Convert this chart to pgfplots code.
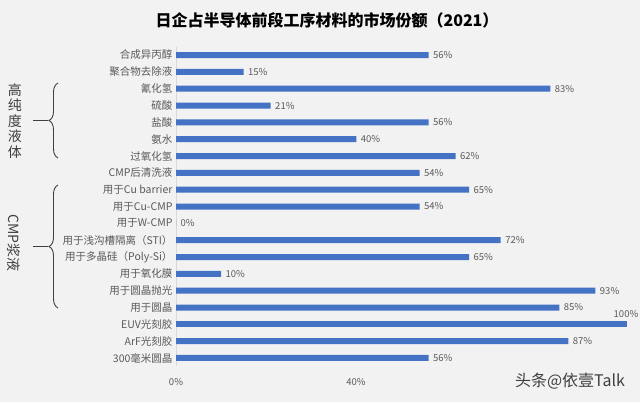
\documentclass[border=0pt]{standalone}
\usepackage{pgfplots}
\pgfplotsset{compat=1.18}
\usepackage{fontspec}
\setmainfont{Noto Sans CJK SC}
\usetikzlibrary{decorations.pathreplacing}
\definecolor{bg}{HTML}{F2F2F2}
\definecolor{barblue}{HTML}{4472C4}
\definecolor{txtgray}{HTML}{595959}
\definecolor{dark}{HTML}{404040}
\begin{document}
\begin{tikzpicture}[x=1pt,y=1pt]
\fill[bg] (0,0) rectangle (640,-402);
\node[font=\fontsize{16}{18}\selectfont\bfseries, text=black] at (327,-20) {日企占半导体前段工序材料的市场份额（2021）};
\begin{axis}[
  at={(176pt,-46.6pt)}, anchor=north west,
  x=4.51pt, y=16.8316pt,
  xmin=0, xmax=100, ymin=-0.5, ymax=18.5,
  y dir=reverse,
  xbar, bar width=6pt, bar shift=0pt,
  axis x line=none,
  axis y line*=left,
  y axis line style={draw=black!15},
  ytick={0,...,18},
  yticklabels={合成异丙醇,聚合物去除液,氰化氢,硫酸,盐酸,氨水,过氧化氢,CMP后清洗液,用于Cu barrier,用于Cu-CMP,用于W-CMP,用于浅沟槽隔离（STI）,用于多晶硅（Poly-Si）,用于氧化膜,用于圆晶抛光,用于圆晶,EUV光刻胶,ArF光刻胶,300毫米圆晶},
  yticklabel style={font=\fontsize{10.5}{12}\selectfont, text=txtgray},
  major tick length=0pt,
  ytick style={draw=none},
  nodes near coords={\pgfmathprintnumber{\pgfplotspointmeta}\%},
  point meta=x,
  every node near coord/.append style={font=\fontsize{9.5}{11}\selectfont, text=txtgray, xshift=1pt},
  /pgf/number format/assume math mode=true,
  clip=false,
]
\addplot[fill=barblue, draw=none] table[x=v, y=i] {
i v
0 56
1 15
2 83
3 21
4 56
5 40
6 62
7 54
8 65
9 54
10 0
11 72
12 65
13 10
14 93
15 85
17 87
18 56
};
\addplot[fill=barblue, draw=none,
  every node near coord/.append style={anchor=south, xshift=-2pt, yshift=3pt}] table[x=v, y=i] {
i v
16 100
};
\end{axis}
\node[font=\fontsize{9.5}{11}\selectfont, text=txtgray] at (176,-382) {0\%};
\node[font=\fontsize{9.5}{11}\selectfont, text=txtgray] at (356,-382) {40\%};
% braces
\draw[dark, line width=0.9pt, decorate, decoration={brace, amplitude=9pt}] (58,-158) -- (58,-83);
\draw[dark, line width=0.9pt] (48,-120.5) -- (33,-120.5);
\draw[dark, line width=0.9pt, decorate, decoration={brace, amplitude=9pt}] (58,-308) -- (58,-185);
\draw[dark, line width=0.9pt] (48,-246.5) -- (33,-246.5);
\node[font=\fontsize{14}{15.5}\selectfont, text=dark, align=center] at (15,-121) {高\\纯\\度\\液\\体};
\node[font=\fontsize{14}{16}\selectfont, text=dark, rotate=-90] at (14,-243) {CMP浆液};
% watermark
\node[font=\fontsize{16}{18}\selectfont, text=black!75] at (570,-381) {头条@依壹Talk};
\pgfresetboundingbox
\path (0,0) rectangle (640,-402);
\end{tikzpicture}
\end{document}
